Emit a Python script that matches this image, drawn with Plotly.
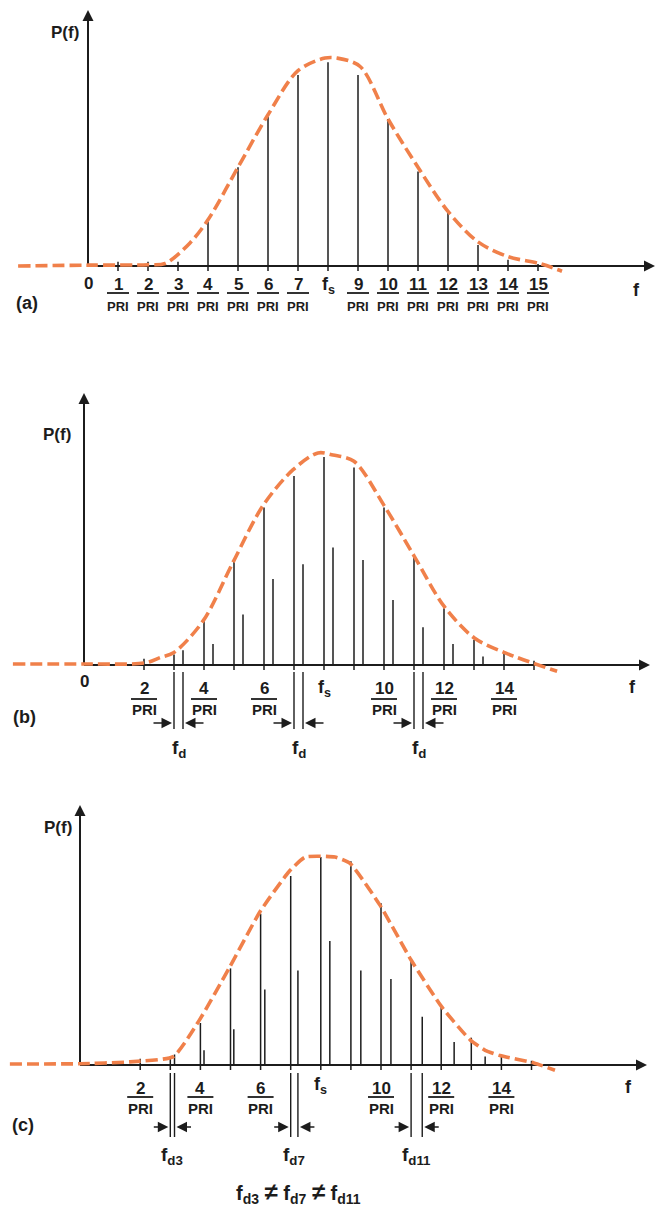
import plotly.graph_objects as go

W, H = 657, 1209
S = 210.0  # pixels per unit of relative power

# ---- data (frequency in units of 1/PRI, power relative to peak) ----
A_LINE_N = [1, 2, 3, 4, 5, 6, 7, 8, 9, 10, 11, 12, 13, 14, 15]
A_LINE_P = [0.02, 0.02, 0.02, 0.21, 0.47, 0.71, 0.91, 0.97, 0.91, 0.70, 0.45, 0.26, 0.10, 0.03, 0.01]
A_ENV_F = [-2.33, 0.0, 2.0, 2.57, 3.4, 4.0, 5.0, 6.0, 7.0, 7.9, 8.3, 9.07, 10.0, 11.0, 12.0, 13.0, 14.0, 15.1, 15.8]
A_ENV_P = [0.0, 0.004, 0.006, 0.012, 0.11, 0.22, 0.47, 0.72, 0.93, 0.99, 0.99, 0.95, 0.70, 0.47, 0.26, 0.115, 0.045, 0.01, -0.025]

B_MAIN_N = [2, 3, 4, 5, 6, 7, 8, 9, 10, 11, 12, 13, 14, 15]
B_MAIN_P = [0.03, 0.05, 0.21, 0.49, 0.75, 0.90, 0.99, 0.94, 0.75, 0.51, 0.27, 0.12, 0.06, 0.02]
B_SIDE_N = [3, 4, 5, 6, 7, 8, 9, 10, 11, 12, 13]
B_SIDE_P = [0.07, 0.10, 0.24, 0.41, 0.48, 0.56, 0.50, 0.31, 0.18, 0.10, 0.04]
B_FD = 0.3
B_ENV_F = [-2.37, 0.0, 2.03, 2.53, 3.0, 3.97, 4.97, 5.97, 6.97, 7.8, 8.3, 9.0, 10.0, 11.0, 12.0, 13.0, 14.0, 15.77]
B_ENV_P = [0.005, 0.005, 0.01, 0.035, 0.06, 0.21, 0.49, 0.76, 0.93, 1.01, 1.0, 0.97, 0.76, 0.52, 0.28, 0.13, 0.06, -0.03]

C_MAIN_N = [2, 3, 4, 5, 6, 7, 8, 9, 10, 11, 12, 13, 14, 15]
C_MAIN_P = [0.03, 0.04, 0.20, 0.46, 0.72, 0.90, 0.99, 0.97, 0.77, 0.50, 0.29, 0.13, 0.04, 0.02]
C_SIDE_N = [3, 4, 5, 6, 7, 8, 9, 10, 11, 12, 13]
C_SIDE_P = [0.05, 0.07, 0.17, 0.36, 0.45, 0.59, 0.45, 0.41, 0.23, 0.11, 0.04]
C_FD = [0.14, 0.12, 0.11, 0.14, 0.24, 0.30, 0.33, 0.33, 0.37, 0.43, 0.46]
C_ENV_F = [-2.33, 0.0, 1.66, 3.1, 3.95, 4.95, 5.98, 6.94, 7.48, 8.47, 8.97, 9.97, 11.0, 12.0, 12.96, 13.46, 13.95, 15.08, 15.78]
C_ENV_P = [0.005, 0.006, 0.015, 0.04, 0.21, 0.46, 0.73, 0.92, 0.99, 0.99, 0.96, 0.76, 0.50, 0.28, 0.12, 0.07, 0.045, 0.01, -0.025]

A_TICK_LABELS = [1, 2, 3, 4, 5, 6, 7, 9, 10, 11, 12, 13, 14, 15]
BC_TICK_LABELS = [2, 4, 6, 10, 12, 14]
FS_N = 8
FD_MARK_N = [3, 7, 11]
B_FD_NAMES = ["f<sub>d</sub>", "f<sub>d</sub>", "f<sub>d</sub>"]
C_FD_NAMES = ["f<sub>d3</sub>", "f<sub>d7</sub>", "f<sub>d11</sub>"]

# ---- layout of the three panels (pixels) ----
PANELS = [
    dict(tag="(a)", ox=88, base=266, top=0, bot=370, ux=30.0, ytip=10, xend=655,
         pf=(65, 32), lab=(27, 303), num=18, bar=27, pri=40, fs=19, f=(636, 24),
         numsize=17, prisize=13, barw=11),
    dict(tag="(b)", ox=84, base=665, top=370, bot=770, ux=30.0, ytip=393, xend=650,
         pf=(57, 435), lab=(24, 717), num=23, bar=34, pri=44, fs=23, f=(632, 22),
         numsize=17, prisize=15, barw=13),
    dict(tag="(c)", ox=80, base=1065, top=770, bot=1209, ux=30.1, ytip=805, xend=647,
         pf=(58, 827), lab=(23, 1125), num=23, bar=32, pri=43, fs=20, f=(628, 22),
         numsize=17, prisize=15, barw=13),
]

INK = "#1c1c1c"
ORANGE = "#F0804A"
FONT = "Liberation Sans, Arial, sans-serif"
TICK = 5 / S

fig = go.Figure()
layout = dict(width=W, height=H, margin=dict(l=0, r=0, t=0, b=0),
              paper_bgcolor="white", plot_bgcolor="white", showlegend=False)
annotations = []
shapes = []


def px(x, y):
    return x / W, 1 - y / H


def text(x, y, s, size, xref="paper", yref="paper", yshift=0, xanchor="center"):
    annotations.append(dict(x=x, y=y, xref=xref, yref=yref, text=f"<b>{s}</b>",
                            showarrow=False, yshift=yshift, xanchor=xanchor, yanchor="middle",
                            font=dict(family=FONT, size=size, color=INK)))


def stems(xr, yr, xs, ps, bottom):
    xx, yy = [], []
    for x, p in zip(xs, ps):
        xx += [x, x, None]
        yy += [bottom, p, None]
    fig.add_trace(go.Scatter(x=xx, y=yy, mode="lines", xaxis=xr, yaxis=yr,
                             line=dict(color=INK, width=1.5), hoverinfo="skip"))


for i, p in enumerate(PANELS):
    k = "" if i == 0 else str(i + 1)
    xr, yr = "x" + k, "y" + k
    layout["xaxis" + k] = dict(range=[-p["ox"] / p["ux"], (W - p["ox"]) / p["ux"]],
                               domain=[0, 1], visible=False, anchor=yr, fixedrange=True)
    layout["yaxis" + k] = dict(range=[-(p["bot"] - p["base"]) / S, (p["base"] - p["top"]) / S],
                               domain=[1 - p["bot"] / H, 1 - p["top"] / H],
                               visible=False, anchor=xr, fixedrange=True)
    xmax = (p["xend"] - p["ox"]) / p["ux"]
    ymax = (p["base"] - p["ytip"]) / S

    # axes
    fig.add_trace(go.Scatter(x=[0, xmax - 0.2, None, 0, 0], y=[0, 0, None, 0, ymax - 0.04],
                             mode="lines", xaxis=xr, yaxis=yr,
                             line=dict(color=INK, width=2), hoverinfo="skip"))
    for hx, hy, ax, ay in [(xmax, 0, -12, 0), (0, ymax, 0, 12)]:
        annotations.append(dict(x=hx, y=hy, xref=xr, yref=yr, ax=ax, ay=ay, text="",
                                showarrow=True, arrowhead=2, arrowsize=1.1, arrowwidth=2,
                                arrowcolor=INK))

    # spectral lines and envelope
    if i == 0:
        stems(xr, yr, A_LINE_N, A_LINE_P, -TICK)
        env_f, env_p, smooth = A_ENV_F, A_ENV_P, 0.9
        labels = A_TICK_LABELS
    elif i == 1:
        stems(xr, yr, B_MAIN_N, B_MAIN_P, -TICK)
        stems(xr, yr, [n + B_FD for n in B_SIDE_N], B_SIDE_P, 0)
        env_f, env_p, smooth = B_ENV_F, B_ENV_P, 0.9
        labels = BC_TICK_LABELS
    else:
        stems(xr, yr, C_MAIN_N, C_MAIN_P, -TICK)
        stems(xr, yr, [n + d for n, d in zip(C_SIDE_N, C_FD)], C_SIDE_P, 0)
        env_f, env_p, smooth = C_ENV_F, C_ENV_P, 0.5
        labels = BC_TICK_LABELS
    fig.add_trace(go.Scatter(x=env_f, y=env_p, mode="lines", xaxis=xr, yaxis=yr,
                             line=dict(color=ORANGE, width=3.6, dash="12px,5px",
                                       shape="spline", smoothing=smooth),
                             hoverinfo="skip"))

    # tick labels n / PRI
    for n in labels:
        text(n, 0, str(n), p["numsize"], xref=xr, yref=yr, yshift=-p["num"])
        text(n, 0, "PRI", p["prisize"], xref=xr, yref=yr, yshift=-p["pri"])
        shapes.append(dict(type="line", xref=xr, yref=yr, xsizemode="pixel", xanchor=n,
                           x0=-p["barw"], x1=p["barw"], ysizemode="pixel", yanchor=0,
                           y0=-p["bar"], y1=-p["bar"], line=dict(color=INK, width=1.8)))
    text(FS_N, 0, "f<sub>s</sub>", 18, xref=xr, yref=yr, yshift=-p["fs"])
    if i < 2:
        text(0, 0, "0", 17, xref=xr, yref=yr, yshift=-(17 if i == 0 else 16))

    fx, fy = p["f"]
    text(*px(fx, p["base"] + fy), "f", 18)
    text(*px(*p["pf"]), "P(f)", 17)
    text(*px(*p["lab"]), p["tag"], 18)

    # Doppler offset markers
    if i > 0:
        for j, n in enumerate(FD_MARK_N):
            d = B_FD if i == 1 else C_FD[n - C_SIDE_N[0]]
            lo, hi, arr_y, name_y, alen = ((7, 64, 58, 84, 22) if i == 1 else (8, 72, 62, 91, 18))
            for xx in (n, n + d):
                shapes.append(dict(type="line", xref=xr, yref=yr, x0=xx, x1=xx,
                                   ysizemode="pixel", yanchor=0, y0=-lo, y1=-hi,
                                   line=dict(color=INK, width=1.4)))
            for xx, ax in ((n, -alen), (n + d, alen)):
                annotations.append(dict(x=xx, y=0, xref=xr, yref=yr, yshift=-arr_y,
                                        ax=ax, ay=0, text="", showarrow=True, standoff=2,
                                        arrowhead=2, arrowsize=1.4, arrowwidth=1.5,
                                        arrowcolor=INK))
            names = B_FD_NAMES if i == 1 else C_FD_NAMES
            text(n + d / 2, 0, names[j], 19, xref=xr, yref=yr, yshift=-name_y)

text(*px(298, 1192),
     "f<sub>d3</sub>&nbsp;<span style='font-size:24px'>\u2260</span>&nbsp;f<sub>d7</sub>"
     "&nbsp;<span style='font-size:24px'>\u2260</span>&nbsp;f<sub>d11</sub>", 20)

layout["annotations"] = annotations
layout["shapes"] = shapes
fig.update_layout(**layout)
fig.write_html("out.html", config={"displayModeBar": False},
               post_script="document.body.style.margin='0';")
